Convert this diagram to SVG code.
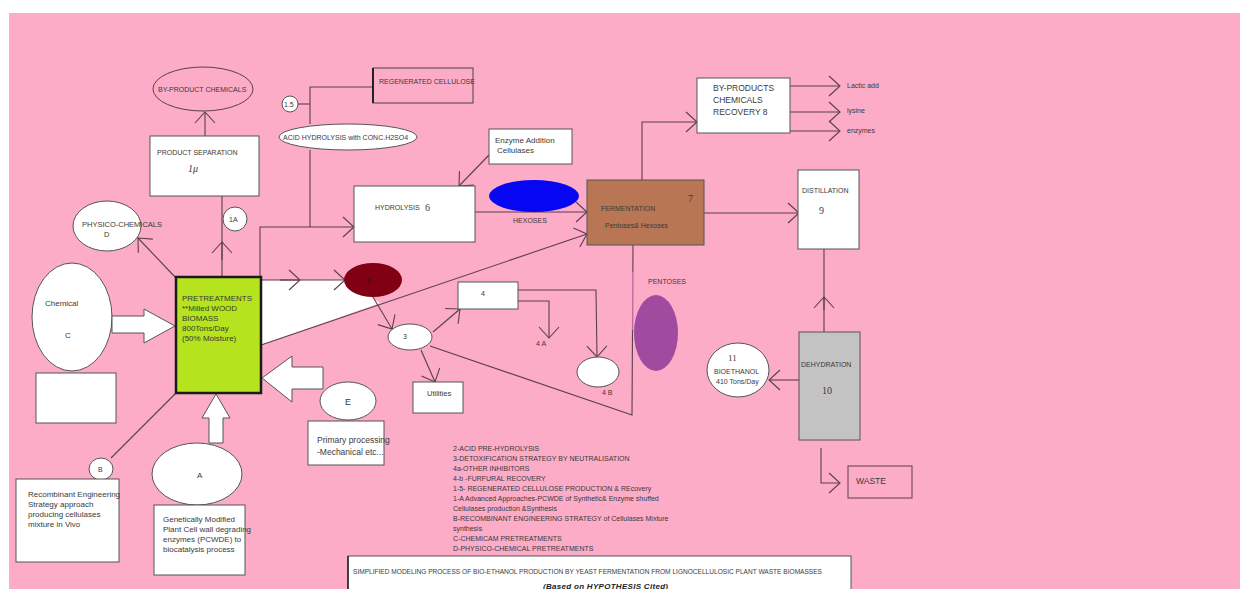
<svg xmlns="http://www.w3.org/2000/svg" width="1240" height="589" viewBox="0 0 1240 589">
<style>
text{font-family:"Liberation Sans",Arial,sans-serif;fill:#3a3a3a}
.s7{font-size:7px}.s75{font-size:7.5px}.s8{font-size:8px}.s85{font-size:8.5px}.s9{font-size:9px}
.num{font-family:"Liberation Serif","Times New Roman",serif;font-size:10px}
.box{fill:#fff;stroke:#555;stroke-width:1}
.ell{fill:#fff;stroke:#555;stroke-width:1}
.ln{fill:none;stroke:#5a3f4d;stroke-width:1.1}
.blk{fill:#fff;stroke:#555;stroke-width:1}
</style>
<defs>
<marker id="ah" markerUnits="userSpaceOnUse" markerWidth="16" markerHeight="26" refX="12" refY="12" orient="auto" viewBox="0 0 16 24">
<path d="M1,2 L12,12 L1,22" fill="none" stroke="#5a3f4d" stroke-width="1.1"/>
</marker>
</defs>
<rect x="9" y="13" width="1231" height="576" fill="#fcacc7"/>

<!-- white wedge -->
<polygon points="261,280 346,280 380,303 261,345" fill="#fff"/>

<g id="connectors">
<line class="ln" x1="205" y1="136" x2="205" y2="112" marker-end="url(#ah)"/>
<line class="ln" x1="222" y1="278" x2="222" y2="196"/>
<line class="ln" x1="222" y1="260" x2="222" y2="242" marker-end="url(#ah)"/>
<line class="ln" x1="176" y1="278" x2="138" y2="238" marker-end="url(#ah)"/>
<line class="ln" x1="176" y1="393" x2="111" y2="458"/>
<line class="ln" x1="298" y1="104" x2="310" y2="104"/>
<polyline class="ln" points="310,124 310,87 373,87"/>
<polyline class="ln" points="310,150 310,227"/>
<polyline class="ln" points="260,278 260,227 354,227" marker-end="url(#ah)"/>
<line class="ln" x1="489" y1="155" x2="459" y2="186" marker-end="url(#ah)"/>
<line class="ln" x1="475" y1="212" x2="587" y2="212" marker-end="url(#ah)"/>
<line class="ln" x1="261" y1="345" x2="587" y2="234" marker-end="url(#ah)"/>
<line class="ln" x1="261" y1="280" x2="345" y2="280" marker-end="url(#ah)"/>
<line class="ln" x1="280" y1="280" x2="300" y2="280" marker-end="url(#ah)"/>
<line class="ln" x1="373" y1="297" x2="392" y2="329" marker-end="url(#ah)"/>
<line class="ln" x1="433" y1="332" x2="460" y2="309" marker-end="url(#ah)"/>
<line class="ln" x1="421" y1="350" x2="435" y2="382" marker-end="url(#ah)"/>
<polyline class="ln" points="518,301 549,301 549,338" marker-end="url(#ah)"/>
<polyline class="ln" points="518,290 596,290 597,357" marker-end="url(#ah)"/>
<polyline class="ln" points="430,346 632,415 633,245"/>
<line x1="633" y1="272" x2="633" y2="330" stroke="#e58cc8" stroke-width="1.3"/>
<polyline class="ln" points="642,180 642,122 697,122" marker-end="url(#ah)"/>
<line class="ln" x1="790" y1="86" x2="840" y2="86" marker-end="url(#ah)"/>
<line class="ln" x1="790" y1="112" x2="840" y2="112" marker-end="url(#ah)"/>
<line class="ln" x1="790" y1="131" x2="840" y2="131" marker-end="url(#ah)"/>
<line class="ln" x1="704" y1="213" x2="799" y2="213" marker-end="url(#ah)"/>
<line class="ln" x1="824" y1="332" x2="824" y2="249"/>
<line class="ln" x1="824" y1="310" x2="824" y2="297" marker-end="url(#ah)"/>
<line class="ln" x1="799" y1="380" x2="769" y2="380" marker-end="url(#ah)"/>
<polyline class="ln" points="821,448 821,483 840,483" marker-end="url(#ah)"/>
</g>

<g id="byproduct-chemicals"><ellipse cx="203" cy="89" rx="50" ry="22" fill="none" stroke="#5a3f4d"/><text class="s7" x="158" y="92">BY-PRODUCT CHEMICALS</text></g>
<g id="product-separation"><rect class="box" x="150" y="136" width="109" height="60"/><text class="s7" x="157" y="155">PRODUCT SEPARATION</text><text class="num" x="188" y="172" font-style="italic">1μ</text></g>
<g id="n1A"><circle class="ell" cx="235" cy="219" r="12"/><text class="s7" x="229" y="222">1A</text></g>
<g id="physico"><ellipse class="ell" cx="107" cy="226" rx="34" ry="25"/><text class="s75" x="82" y="227">PHYSICO-CHEMICALS</text><text class="s75" x="104" y="237">D</text></g>
<g id="chemical"><ellipse class="ell" cx="72" cy="317" rx="40" ry="54"/><text class="s8" x="45" y="306">Chemical</text><text class="s8" x="65" y="338">C</text><rect class="box" x="36" y="373" width="80" height="50"/></g>
<g id="arrow-c"><polygon class="blk" points="112,316 144,316 144,309 175,326 144,343 144,333 112,333"/></g>
<g id="pretreatment"><rect x="176" y="277" width="85" height="116" fill="#b5e31e" stroke="#1a1a1a" stroke-width="2.5"/>
<text class="s8" x="182" y="301">PRETREATMENTS</text><text class="s8" x="182" y="311">**Milled WOOD</text><text class="s8" x="182" y="321">BIOMASS</text><text class="s8" x="182" y="331"> 800Tons/Day</text><text class="s8" x="182" y="341">(50% Moisture)</text></g>
<g id="arrow-e"><polygon class="blk" points="262,378 292,356 292,367 323,367 323,389 292,389 292,402"/></g>
<g id="arrow-a"><polygon class="blk" points="216,394 230,418 223,418 223,443 209,443 209,418 202,418"/></g>
<g id="E"><ellipse class="ell" cx="348" cy="401" rx="28" ry="19"/><text class="s9" x="345" y="405">E</text><rect class="box" x="308" y="421" width="76" height="44"/><text class="s85" x="317" y="443">Primary processing</text><text class="s85" x="317" y="455">-Mechanical etc...</text></g>
<g id="B"><ellipse class="ell" cx="101" cy="469" rx="12" ry="11"/><text class="s7" x="98" y="472">B</text><rect class="box" x="16" y="479" width="103" height="83"/>
<text class="s8" x="28" y="497">Recombinant Engineering</text><text class="s8" x="28" y="507">Strategy approach</text><text class="s8" x="28" y="517">producing cellulases</text><text class="s8" x="28" y="527">mixture in Vivo</text></g>
<g id="A"><ellipse class="ell" cx="197" cy="474" rx="45" ry="31"/><text class="s8" x="197" y="478">A</text><rect class="box" x="154" y="505" width="91" height="70"/>
<text class="s8" x="163" y="522">Genetically Modified</text><text class="s8" x="163" y="532">Plant Cell wall degrading</text><text class="s8" x="163" y="542">enzymes (PCWDE) to</text><text class="s8" x="163" y="552">biocatalysis process</text></g>
<g id="n15"><circle class="ell" cx="290" cy="104" r="8"/><text class="s7" x="284" y="107">1.5</text></g>
<g id="acid-hydrolysis"><ellipse class="ell" cx="348" cy="137" rx="69" ry="13"/><text class="s7" x="283" y="140">ACID HYDROLYSIS  with CONC.H2SO4</text></g>
<g id="regenerated"><rect x="373" y="68" width="100" height="35" fill="none" stroke="#444" stroke-width="1"/><line x1="373" y1="68" x2="373" y2="103" stroke="#222" stroke-width="2"/><text class="s7" x="379" y="84">REGENERATED CELLULOSE</text></g>
<g id="hydrolysis"><rect class="box" x="354" y="186" width="121" height="56"/><text class="s7" x="375" y="210">HYDROLYSIS</text><text class="num" x="425" y="211">6</text></g>
<g id="enzyme"><rect class="box" x="489" y="129" width="83" height="35"/><text class="s8" x="495" y="143">Enzyme Addition</text><text class="s8" x="497" y="153">Cellulases</text></g>
<g id="hexoses"><ellipse cx="534" cy="196" rx="45" ry="16" fill="#0606f2"/><text class="s7" x="513" y="223">HEXOSES</text></g>
<g id="n2"><ellipse cx="373" cy="280" rx="29" ry="17" fill="#820014"/><text class="s7" x="367" y="283" style="fill:#4a000c">2</text></g>
<g id="n3"><ellipse class="ell" cx="410" cy="337" rx="22" ry="13"/><text class="s7" x="403" y="339">3</text></g>
<g id="n4"><rect class="box" x="458" y="282" width="60" height="27"/><text class="s7" x="481" y="296">4</text></g>
<g id="n4A"><text class="s7" x="536" y="346">4 A</text></g>
<g id="n4B"><ellipse class="ell" cx="598" cy="372" rx="21" ry="15"/><text class="s7" x="602" y="395">4 B</text></g>
<g id="utilities"><rect class="box" x="413" y="382" width="50" height="31"/><text class="s75" x="427" y="396">Utilities</text></g>
<g id="fermentation"><rect x="587" y="180" width="117" height="65" fill="#b87654" stroke="#555"/><text class="s7" x="601" y="211">FERMENTATION</text><text class="s7" x="605" y="228">Pentoses&amp; Hexoses</text><text class="num" x="688" y="202">7</text></g>
<g id="pentoses"><text class="s7" x="648" y="284">PENTOSES</text><ellipse cx="656" cy="333" rx="22" ry="38" fill="#a04aa0"/></g>
<g id="byproducts-recovery"><rect class="box" x="697" y="78" width="93" height="55"/><text class="s85" x="713" y="91">BY-PRODUCTS</text><text class="s85" x="713" y="103">CHEMICALS</text><text class="s85" x="713" y="115">RECOVERY 8</text>
<text class="s7" x="847" y="88">Lactic add</text><text class="s7" x="847" y="113">lysine</text><text class="s7" x="847" y="133">enzymes</text></g>
<g id="distillation"><rect class="box" x="798" y="170" width="61" height="79"/><text class="s7" x="802" y="193">DISTILLATION</text><text class="num" x="819" y="214">9</text></g>
<g id="dehydration"><rect x="799" y="332" width="61" height="108" fill="#c3c3c3" stroke="#555"/><text class="s7" x="801" y="367">DEHYDRATION</text><text class="num" x="822" y="394">10</text></g>
<g id="bioethanol"><ellipse class="ell" cx="738" cy="370" rx="31" ry="27"/><text class="num" x="728" y="361" style="font-size:9px">11</text><text class="s7" x="714" y="374">BIOETHANOL</text><text class="s7" x="716" y="384">410 Tons/Day</text></g>
<g id="waste"><rect x="848" y="466" width="64" height="32" fill="none" stroke="#5a3f4d"/><text class="s85" x="856" y="484">WASTE</text></g>

<g id="legend" style="font-size:7px">
<text x="453" y="451">2-ACID PRE-HYDROLYSIS</text>
<text x="453" y="461">3-DETOXIFICATION STRATEGY BY NEUTRALISATION</text>
<text x="453" y="471">4a-OTHER INHIBITORS</text>
<text x="453" y="481">4-b -FURFURAL RECOVERY</text>
<text x="453" y="491">1-5- REGENERATED CELLULOSE PRODUCTION &amp; REcovery</text>
<text x="453" y="501">1-A Advanced Approaches-PCWDE of Synthetic&amp; Enzyme shuffed</text>
<text x="453" y="511">Cellulases production &amp;Synthesis</text>
<text x="453" y="521">B-RECOMBINANT ENGINEERING STRATEGY of Cellulases Mixture</text>
<text x="453" y="531">synthesis</text>
<text x="453" y="541">C-CHEMICAM PRETREATMENTS</text>
<text x="453" y="551">D-PHYSICO-CHEMICAL PRETREATMENTS</text>
</g>
<g id="title"><rect x="348" y="556" width="503" height="40" fill="#fff" stroke="#555"/><line x1="348" y1="556" x2="348" y2="589" stroke="#222" stroke-width="1.5"/>
<text x="353" y="574" style="font-size:6.5px" textLength="469" lengthAdjust="spacingAndGlyphs">SIMPLIFIED MODELING PROCESS OF BIO-ETHANOL PRODUCTION BY YEAST FERMENTATION  FROM LIGNOCELLULOSIC PLANT WASTE BIOMASSES</text>
<text x="543" y="589" style="font-size:8px;font-weight:bold;font-style:italic;fill:#222" textLength="125">(Based on HYPOTHESIS Cited)</text></g>
</svg>
